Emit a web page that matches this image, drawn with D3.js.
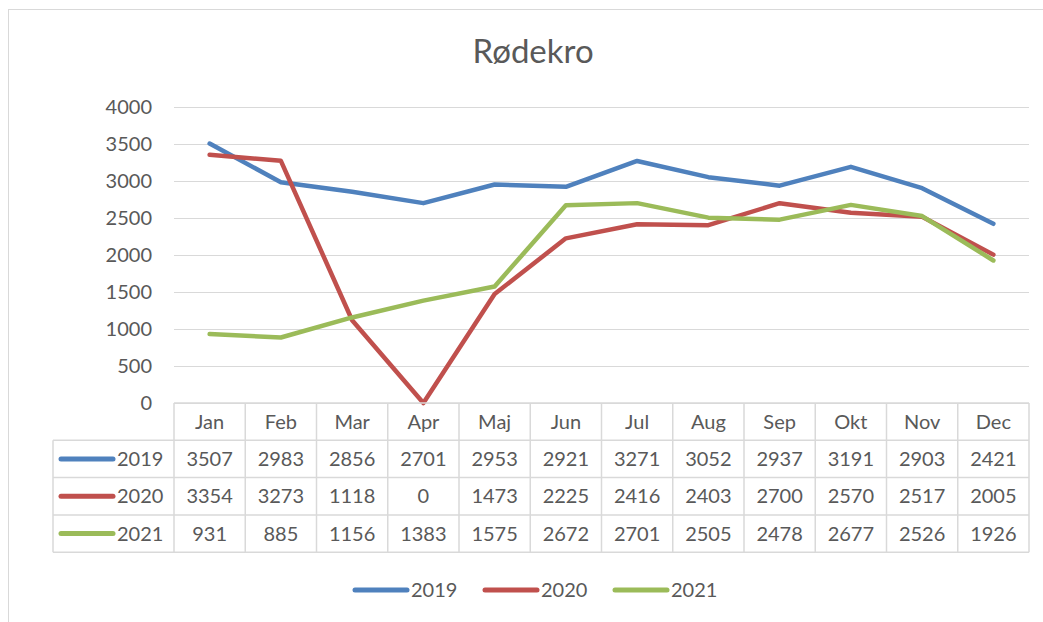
<!DOCTYPE html>
<html>
<head>
<meta charset="utf-8">
<script src="https://cdn.jsdelivr.net/npm/d3@7"></script>
<style>
  body { margin: 0; background: #fff; }
  text { font-family: Lato, "Open Sans", sans-serif; fill: #595959; }
</style>
</head>
<body>
<div id="chart"></div>
<script>
const months = ["Jan", "Feb", "Mar", "Apr", "Maj", "Jun", "Jul", "Aug", "Sep", "Okt", "Nov", "Dec"];
const years = ["2019", "2020", "2021"];
const v2019 = [3507, 2983, 2856, 2701, 2953, 2921, 3271, 3052, 2937, 3191, 2903, 2421];
const v2020 = [3354, 3273, 1118, 0, 1473, 2225, 2416, 2403, 2700, 2570, 2517, 2005];
const v2021 = [931, 885, 1156, 1383, 1575, 2672, 2701, 2505, 2478, 2677, 2526, 1926];
const yTicks = [0, 500, 1000, 1500, 2000, 2500, 3000, 3500, 4000];
const colors = ["#4F81BD", "#C0504D", "#9BBB59"];

const series = years.map((yr, i) => ({ name: yr, values: [v2019, v2020, v2021][i], color: colors[i] }));

const W = 1043, H = 622;
const MARGIN = { LEFT: 174, RIGHT: 14, TOP: 107 };
const PLOT_BOTTOM = 403;
const ROW_H = 37.3;
const FS = "20px";

const svg = d3.select("#chart").append("svg")
  .attr("width", W)
  .attr("height", H);

// chart border (only top/left visible in frame)
svg.append("rect")
  .attr("x", 8.5).attr("y", 9.5)
  .attr("width", W + 20).attr("height", H + 20)
  .attr("fill", "none")
  .attr("stroke", "#d9d9d9")
  .attr("stroke-width", 1);

svg.append("text")
  .attr("x", 533).attr("y", 63)
  .attr("text-anchor", "middle")
  .attr("font-size", "33px")
  .text("Rødekro");

const x = d3.scaleBand().domain(months).range([MARGIN.LEFT, W - MARGIN.RIGHT]);
const y = d3.scaleLinear().domain([0, 4000]).range([PLOT_BOTTOM, MARGIN.TOP]);

// gridlines + y labels
const yAxis = d3.axisLeft(y)
  .tickValues(yTicks)
  .tickFormat(d3.format("d"))
  .tickSize(-(x.range()[1] - x.range()[0]))
  .tickPadding(22);
const yg = svg.append("g").attr("transform", `translate(${MARGIN.LEFT},0)`).call(yAxis);
yg.select(".domain").remove();
yg.selectAll(".tick line").attr("stroke", "#d9d9d9").attr("stroke-width", 1);
yg.selectAll(".tick text")
  .attr("font-size", FS)
  .attr("font-family", "Lato, sans-serif")
  .attr("fill", "#595959");

// lines
const line = d3.line()
  .x((d, i) => x(months[i]) + x.bandwidth() / 2)
  .y(d => y(d));

svg.append("g").selectAll("path")
  .data(series)
  .join("path")
  .attr("d", d => line(d.values))
  .attr("fill", "none")
  .attr("stroke", d => d.color)
  .attr("stroke-width", 4.5)
  .attr("stroke-linejoin", "round")
  .attr("stroke-linecap", "round");

// data table
const tbl = svg.append("g");
const gridCol = "#d9d9d9";
const tableLeft = 53;
const x0 = MARGIN.LEFT, x1 = W - MARGIN.RIGHT;
const rowY = i => PLOT_BOTTOM + ROW_H * i;

// horizontal lines
tbl.append("line").attr("x1", x0).attr("x2", x1).attr("y1", rowY(0)).attr("y2", rowY(0));
for (let i = 1; i <= 4; i++) {
  tbl.append("line").attr("x1", tableLeft).attr("x2", x1).attr("y1", rowY(i)).attr("y2", rowY(i));
}
// vertical lines
tbl.append("line").attr("x1", tableLeft).attr("x2", tableLeft).attr("y1", rowY(1)).attr("y2", rowY(4));
months.forEach(m => {
  tbl.append("line").attr("x1", x(m)).attr("x2", x(m)).attr("y1", rowY(0)).attr("y2", rowY(4));
});
tbl.append("line").attr("x1", x1).attr("x2", x1).attr("y1", rowY(0)).attr("y2", rowY(4));
tbl.selectAll("line").attr("stroke", gridCol).attr("stroke-width", 1.5);

// header
tbl.selectAll("text.hdr")
  .data(months)
  .join("text")
  .attr("class", "hdr")
  .attr("x", d => x(d) + x.bandwidth() / 2)
  .attr("y", rowY(0) + ROW_H / 2 + 7)
  .attr("text-anchor", "middle")
  .attr("font-size", FS)
  .text(d => d);

series.forEach((s, si) => {
  const cy = rowY(si + 1) + ROW_H / 2;
  tbl.append("line")
    .attr("x1", 61).attr("x2", 113)
    .attr("y1", cy).attr("y2", cy)
    .attr("stroke", s.color).attr("stroke-width", 5).attr("stroke-linecap", "round");
  tbl.append("text")
    .attr("x", 117).attr("y", cy + 7)
    .attr("font-size", FS)
    .text(s.name);
  tbl.selectAll(null)
    .data(s.values)
    .join("text")
    .attr("x", (d, i) => x(months[i]) + x.bandwidth() / 2)
    .attr("y", cy + 7)
    .attr("text-anchor", "middle")
    .attr("font-size", FS)
    .text(d => d);
});

// legend
const legend = svg.append("g").attr("transform", "translate(355,590)");
series.forEach((s, i) => {
  const lx = i * 130;
  legend.append("line")
    .attr("x1", lx).attr("x2", lx + 52)
    .attr("y1", 0).attr("y2", 0)
    .attr("stroke", s.color).attr("stroke-width", 5).attr("stroke-linecap", "round");
  legend.append("text")
    .attr("x", lx + 56).attr("y", 7)
    .attr("font-size", FS)
    .text(s.name);
});
</script>
</body>
</html>
